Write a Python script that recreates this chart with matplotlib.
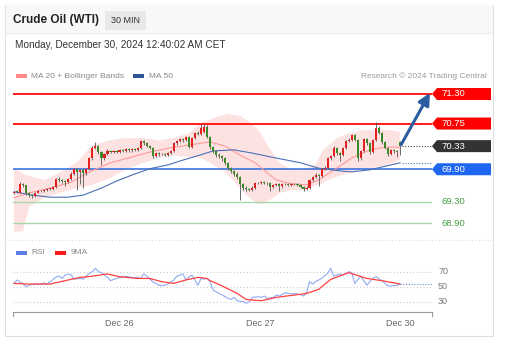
import numpy as np
import matplotlib.pyplot as plt
from matplotlib.patches import Rectangle, Polygon
from matplotlib.lines import Line2D

plt.rcParams['font.family'] = ['Liberation Sans', 'DejaVu Sans']

# %% data (30 min bars, Dec 25 evening -> Dec 30)

opens = [69.46, 69.49, 69.46, 69.63, 69.60, 69.45, 69.42, 69.40, 69.46, 69.49,
         69.50, 69.51, 69.53, 69.54, 69.57, 69.72, 69.70, 69.68, 69.66, 69.72,
         69.82, 69.90, 69.84, 69.88, 69.83, 69.90, 70.10, 70.30, 70.33, 70.22,
         70.10, 70.18, 70.24, 70.22, 70.24, 70.23, 70.25, 70.24, 70.27, 70.25,
         70.27, 70.26, 70.30, 70.42, 70.38, 70.34, 70.30, 70.15, 70.20, 70.18,
         70.19, 70.17, 70.20, 70.24, 70.38, 70.42, 70.46, 70.44, 70.50, 70.32,
         70.48, 70.58, 70.56, 70.60, 70.68, 70.50, 70.31, 70.24, 70.16, 70.14,
         70.10, 70.02, 69.92, 69.86, 69.82, 69.75, 69.62, 69.56, 69.54, 69.52,
         69.56, 69.64, 69.65, 69.66, 69.65, 69.64, 69.57, 69.60, 69.63, 69.58,
         69.62, 69.63, 69.61, 69.63, 69.62, 69.60, 69.57, 69.54, 69.55, 69.70,
         69.76, 69.80, 69.78, 69.90, 69.93, 70.10, 70.14, 70.30, 70.20, 70.16,
         70.30, 70.42, 70.45, 70.53, 70.45, 70.10, 70.24, 70.46, 70.38, 70.22,
         70.44, 70.66, 70.58, 70.40, 70.30, 70.18, 70.25, 70.24, 70.41]

closes = [69.48, 69.47, 69.63, 69.60, 69.45, 69.42, 69.40, 69.46, 69.49, 69.50,
          69.51, 69.53, 69.54, 69.57, 69.72, 69.70, 69.68, 69.66, 69.72, 69.82,
          69.90, 69.84, 69.88, 69.83, 69.90, 70.10, 70.30, 70.33, 70.22, 70.10,
          70.18, 70.24, 70.22, 70.24, 70.23, 70.25, 70.24, 70.27, 70.25, 70.27,
          70.26, 70.30, 70.42, 70.38, 70.34, 70.30, 70.15, 70.20, 70.18, 70.19,
          70.17, 70.20, 70.24, 70.38, 70.42, 70.46, 70.44, 70.50, 70.32, 70.48,
          70.58, 70.56, 70.66, 70.68, 70.50, 70.31, 70.24, 70.16, 70.14, 70.10,
          70.02, 69.92, 69.86, 69.82, 69.75, 69.62, 69.56, 69.54, 69.52, 69.56,
          69.64, 69.65, 69.66, 69.65, 69.64, 69.57, 69.60, 69.63, 69.58, 69.62,
          69.63, 69.61, 69.63, 69.62, 69.60, 69.57, 69.54, 69.55, 69.70, 69.76,
          69.80, 69.78, 69.90, 69.93, 70.10, 70.14, 70.30, 70.20, 70.16, 70.30,
          70.42, 70.45, 70.53, 70.45, 70.10, 70.24, 70.46, 70.38, 70.22, 70.44,
          70.66, 70.58, 70.40, 70.30, 70.18, 70.25, 70.24, 70.23, 70.33]

highs = [69.50, 69.51, 69.66, 69.65, 69.61, 69.47, 69.44, 69.48, 69.51, 69.52,
         69.53, 69.55, 69.56, 69.59, 69.74, 69.75, 69.72, 69.70, 69.74, 69.84,
         69.92, 69.92, 69.91, 69.90, 69.92, 70.12, 70.33, 70.41, 70.35, 70.24,
         70.20, 70.27, 70.26, 70.26, 70.26, 70.27, 70.27, 70.29, 70.29, 70.29,
         70.29, 70.32, 70.45, 70.44, 70.40, 70.36, 70.32, 70.22, 70.22, 70.21,
         70.21, 70.22, 70.26, 70.40, 70.45, 70.48, 70.48, 70.52, 70.52, 70.50,
         70.60, 70.62, 70.74, 70.75, 70.72, 70.52, 70.34, 70.26, 70.20, 70.16,
         70.12, 70.04, 69.95, 69.88, 69.84, 69.78, 69.64, 69.58, 69.56, 69.58,
         69.66, 69.67, 69.68, 69.68, 69.67, 69.66, 69.62, 69.65, 69.65, 69.64,
         69.65, 69.65, 69.65, 69.65, 69.64, 69.62, 69.59, 69.58, 69.72, 69.78,
         69.83, 69.82, 69.92, 69.96, 70.12, 70.17, 70.33, 70.32, 70.22, 70.32,
         70.45, 70.48, 70.56, 70.55, 70.47, 70.26, 70.48, 70.48, 70.40, 70.46,
         70.77, 70.70, 70.60, 70.42, 70.32, 70.27, 70.27, 70.26, 70.43]

lows = [69.44, 69.45, 69.45, 69.57, 69.43, 69.38, 69.36, 69.39, 69.45, 69.47,
        69.48, 69.50, 69.51, 69.52, 69.56, 69.67, 69.64, 69.58, 69.64, 69.70,
        69.80, 69.51, 69.62, 69.55, 69.80, 69.88, 70.08, 70.27, 70.19, 69.98,
        70.08, 70.16, 70.20, 70.20, 70.21, 70.21, 70.22, 70.22, 70.23, 70.23,
        70.24, 70.24, 70.28, 70.35, 70.31, 70.27, 70.10, 70.13, 70.15, 70.16,
        70.15, 70.15, 70.18, 70.22, 70.36, 70.40, 70.41, 70.42, 70.30, 70.30,
        70.46, 70.53, 70.54, 70.58, 70.48, 70.28, 70.20, 70.12, 70.10, 70.06,
        69.98, 69.89, 69.83, 69.78, 69.72, 69.33, 69.52, 69.50, 69.49, 69.50,
        69.54, 69.62, 69.63, 69.62, 69.61, 69.50, 69.55, 69.58, 69.50, 69.56,
        69.60, 69.59, 69.59, 69.60, 69.58, 69.55, 69.50, 69.51, 69.53, 69.68,
        69.74, 69.58, 69.76, 69.88, 69.91, 70.08, 70.12, 70.16, 70.05, 70.14,
        70.28, 70.40, 70.43, 70.42, 70.06, 70.08, 70.22, 70.35, 70.18, 70.20,
        70.42, 70.55, 70.37, 70.27, 70.14, 70.16, 70.21, 70.12, 70.17]

ma20_idx = [0, 5, 12, 19, 25, 32, 38, 45, 52, 58, 65, 70, 76, 80, 84, 87, 92, 97, 101, 107, 112, 118, 123, 128]
ma20 = [69.37, 69.46, 69.55, 69.66, 69.85, 70.02, 70.11, 70.22, 70.30, 70.35, 70.41, 70.33, 70.13, 70.02,
        69.83, 69.70, 69.63, 69.61, 69.70, 69.92, 70.11, 70.26, 70.31, 70.31]

ma50_idx = [0, 6, 12, 18, 23, 29, 34, 39, 45, 51, 56, 62, 66, 73, 79, 85, 95, 101, 108, 112, 118, 125, 128]
ma50 = [69.48, 69.42, 69.38, 69.38, 69.42, 69.55, 69.68, 69.79, 69.91, 69.98, 70.07, 70.17, 70.24, 70.26,
        70.20, 70.13, 70.02, 69.92, 69.87, 69.85, 69.89, 69.98, 70.02]

bb_up_idx = [0, 4, 10, 15, 21, 26, 32, 37, 43, 48, 53, 58, 62, 66, 71, 75, 78, 81, 84, 88, 92, 96, 100,
             102, 107, 111, 116, 120, 125, 128]
bb_up = [69.92, 69.79, 69.70, 69.83, 70.03, 70.35, 70.44, 70.48, 70.48, 70.44, 70.48, 70.57, 70.76, 70.85,
         70.93, 70.89, 70.78, 70.63, 70.35, 70.02, 69.89, 69.89, 69.98, 70.22, 70.48, 70.57, 70.63, 70.63,
         70.63, 70.59]

bb_lo_idx = [0, 3, 5, 10, 15, 21, 26, 32, 37, 43, 48, 53, 58, 62, 66, 70, 74, 77, 79, 81, 83, 86, 88, 92,
             96, 102, 107, 112, 118, 124, 128]
bb_lo = [68.73, 68.75, 69.20, 69.37, 69.46, 69.55, 69.61, 69.74, 69.89, 70.02, 70.11, 70.15, 70.13, 70.11,
         69.98, 69.85, 69.61, 69.42, 69.33, 69.25, 69.27, 69.37, 69.46, 69.51, 69.51, 69.64, 69.76, 69.85,
         69.92, 69.98, 70.07]

rsi_idx = [0, 1, 3, 4, 5, 7, 9, 10, 11, 12, 14, 15, 16, 17, 18, 19, 20, 22, 23, 25, 26, 27, 28, 29, 30, 31,
           32, 34, 36, 37, 39, 41, 42, 43, 44, 46, 48, 49, 51, 53, 54, 56, 57, 58, 59, 61, 62, 63, 64, 65,
           66, 68, 69, 71, 72, 73, 74, 76, 77, 78, 79, 81, 82, 83, 84, 86, 87, 88, 90, 92, 93, 95, 96, 97,
           98, 99, 100, 102, 104, 105, 106, 108, 109, 111, 112, 113, 115, 117, 119, 120, 122, 124, 125, 127, 128]
rsi = [54.4, 58.9, 54, 50, 52, 53.5, 53.5, 55, 53.5, 56.7, 63, 64, 61, 65.5, 67, 65.5, 60, 61, 60, 68,
       70, 74.4, 70, 68.7, 65.5, 62.4, 58, 61, 63.3, 64, 62.4, 62.4, 61, 67, 64, 56.7, 52, 51, 53.5, 59,
       64, 67, 59, 63, 65.5, 52, 61, 60, 61, 57, 45.6, 41, 39, 34.4, 33, 35.8, 31.3, 30, 27.8, 30,
       35.8, 36.7, 35.8, 37.6, 34.4, 35.8, 38.9, 37.6, 42, 40.2, 41, 39.3, 37.6, 42, 56.7, 53.5, 56.7, 61,
       67.8, 74.4, 64, 67, 65.5, 70, 68.7, 54.4, 64, 52, 61, 63.3, 58, 51, 51, 52, 53.5]

ma9_idx = [0, 5, 12, 18, 22, 26, 31, 35, 41, 45, 49, 53, 57, 61, 64, 65, 68, 69, 74, 77, 82, 87, 93, 97,
           101, 105, 111, 117, 122, 127, 128]
ma9 = [54.4, 53.5, 53.5, 59, 62.4, 64, 67, 63.3, 61, 61, 56.7, 54.4, 59, 62.4, 61, 58, 53, 51, 41, 33,
       31.3, 35.8, 38.9, 41, 46.4, 59.8, 68.7, 61, 58, 54.4, 53.5]

day_ticks = [35, 81.5, 128]
day_labels = ["Dec 26", "Dec 27", "Dec 30"]

resist = [71.30, 70.75]
last_price = 70.33
pivot = 69.90
support = [69.30, 68.90]
target = 71.30

# %% layout helpers (pixel -> figure fraction)
W, H = 508, 344
def fx(px):
    return px / W
def fy(py):
    return 1 - py / H

fig = plt.figure(figsize=(5.08, 3.44), dpi=100)
fig.patch.set_facecolor('white')

# card + header
fig.patches.append(Rectangle((fx(5), fy(336)), 488 / W, 331 / H, transform=fig.transFigure,
                             fill=False, ec='#e0e0e0', lw=0.8))
fig.patches.append(Rectangle((fx(5.5), fy(33)), 487 / W, 27.5 / H, transform=fig.transFigure,
                             fc='#f8f8f8', ec='none'))
fig.add_artist(Line2D([fx(5), fx(493)], [fy(33), fy(33)], color='#ececec', lw=0.8))
fig.text(fx(13), fy(20.5), "Crude Oil (WTI)", fontsize=8.5, fontweight='bold', color='#222222', va='center')
fig.patches.append(Rectangle((fx(105), fy(30)), 41 / W, 19 / H, transform=fig.transFigure,
                             fc='#e8e8e8', ec='none'))
fig.text(fx(125.5), fy(20.5), "30 MIN", fontsize=6.5, color='#333333', ha='center', va='center')
fig.text(fx(15), fy(45), "Monday, December 30, 2024 12:40:02 AM CET", fontsize=7.2, color='#333333', va='center')

# legend row
fig.patches.append(Rectangle((fx(16), fy(77.5)), 11 / W, 3.5 / H, transform=fig.transFigure, fc='#ff8a8a', ec='none'))
fig.text(fx(31), fy(76), "MA 20 + Bollinger Bands", fontsize=6, color='#888888', va='center')
fig.patches.append(Rectangle((fx(133), fy(77.5)), 11 / W, 3.5 / H, transform=fig.transFigure, fc='#2f5597', ec='none'))
fig.text(fx(149), fy(76), "MA 50", fontsize=6, color='#888888', va='center')
fig.text(fx(487), fy(76), "Research \u00a9 2024 Trading Central", fontsize=6, color='#999999', va='center', ha='right')

# %% price panel
ax = fig.add_axes([fx(13), fy(235), 419 / W, 150 / H])
ax.set_xlim(-0.33, 138.6)
ax.set_ylim(68.677, 71.467)
ax.axis('off')

ax.fill(np.r_[bb_up_idx, bb_lo_idx[::-1]], np.r_[bb_up, bb_lo[::-1]], color='#fde2e2', lw=0, zorder=1)

for p in resist:
    ax.axhline(p, color='#ff1a1a', lw=1.4, zorder=2)
ax.axhline(pivot, color='#3b74e0', lw=1.2, zorder=2)
for p in support:
    ax.axhline(p, color='#a8d8a8', lw=1.0, zorder=2)

ax.plot(ma20_idx, ma20, color='#ff9a9a', lw=0.8, zorder=3)
ax.plot(ma50_idx, ma50, color='#4a6fb5', lw=0.8, zorder=3)

idx = np.arange(len(closes))
o = np.array(opens)
c = np.array(closes)
cols = np.where(c >= o, '#e32020', '#3a8a2a')
ax.vlines(idx, lows, highs, color='#555555', lw=0.6, zorder=4)
body = np.maximum(np.abs(c - o), 0.012)
ax.bar(idx, body, bottom=np.minimum(o, c), width=0.7, color=cols, lw=0, zorder=5)

n = len(closes) - 1
ax.plot([n + 0.6, 138.6], [last_price, last_price], color='#444444', lw=0.8, ls=(0, (1, 1.5)), zorder=3)
ax.plot([n + 0.6, 138.6], [ma50[-1], ma50[-1]], color='#4a6fb5', lw=0.8, ls=(0, (1, 1.5)), zorder=3)

ax.annotate('', xy=(137.9, target + 0.02), xytext=(n + 0.4, last_price + 0.03),
            arrowprops=dict(arrowstyle='-|>,head_width=0.35,head_length=0.7', color='#2b5da0',
                            lw=2.2, shrinkA=0, shrinkB=0), annotation_clip=False, zorder=6)

# price tags on the right
trans = ax.get_yaxis_transform()
hh = 6 / 53.75
def tag(price, text, bg):
    pts = [(1.0, price), (1.0119, price + hh), (1.1408, price + hh), (1.1408, price - hh), (1.0119, price - hh)]
    ax.add_patch(Polygon(pts, closed=True, transform=trans, fc=bg, ec='none', clip_on=False))
    ax.text(1.0215, price, text, transform=trans, fontsize=6.8, color='white', va='center', ha='left')

for p in resist:
    tag(p, "%.2f" % p, '#ff0000')
tag(last_price, "%.2f" % last_price, '#333333')
tag(pivot, "%.2f" % pivot, '#1f66f0')
for p in support:
    ax.text(1.0215, p, "%.2f" % p, transform=trans, fontsize=6.8, color='#45a045', va='center', ha='left')

# dotted separator between panels
fig.add_artist(Line2D([fx(5), fx(493)], [fy(240), fy(240)], color='#dddddd', lw=0.8, ls=(0, (1, 2))))

# %% RSI panel
fig.patches.append(Rectangle((fx(16), fy(254.5)), 11 / W, 3.5 / H, transform=fig.transFigure, fc='#5b7fe6', ec='none'))
fig.text(fx(31), fy(253), "RSI", fontsize=6, color='#888888', va='center')
fig.patches.append(Rectangle((fx(55), fy(254.5)), 11 / W, 3.5 / H, transform=fig.transFigure, fc='#ff1a1a', ec='none'))
fig.text(fx(71), fy(253), "9MA", fontsize=6, color='#888888', va='center')

ax2 = fig.add_axes([fx(13), fy(312), 419 / W, 50 / H])
ax2.set_xlim(-0.33, 138.6)
ax2.set_ylim(16.3, 82.9)
for s in ['top', 'left', 'right']:
    ax2.spines[s].set_visible(False)
ax2.spines['bottom'].set_color('#999999')
ax2.spines['bottom'].set_linewidth(0.8)
ax2.set_yticks([])
ax2.set_xticks(day_ticks)
ax2.set_xticklabels(day_labels)
ax2.tick_params(axis='x', length=0, pad=5, labelsize=6.5, labelcolor='#666666')
for xe in [0, 1]:
    ax2.plot([xe, xe], [0, -0.08], transform=ax2.transAxes, color='#999999', lw=0.8, clip_on=False)

for lv in [70, 50, 30]:
    ax2.axhline(lv, color='#cccccc', lw=0.8, ls=(0, (1, 2)))
    ax2.text(1.0145, lv, str(lv), transform=ax2.get_yaxis_transform(), fontsize=6.5, color='#777777', va='center')

ax2.plot(rsi_idx, rsi, color='#8eaaf2', lw=0.8)
ax2.plot(ma9_idx, ma9, color='#ff4040', lw=0.9)
ax2.plot([n, 138.6], [rsi[-1], rsi[-1]], color='#6a8ae8', lw=0.8, ls=(0, (1, 1.5)))

plt.savefig('out.png', dpi=100, facecolor='white')
